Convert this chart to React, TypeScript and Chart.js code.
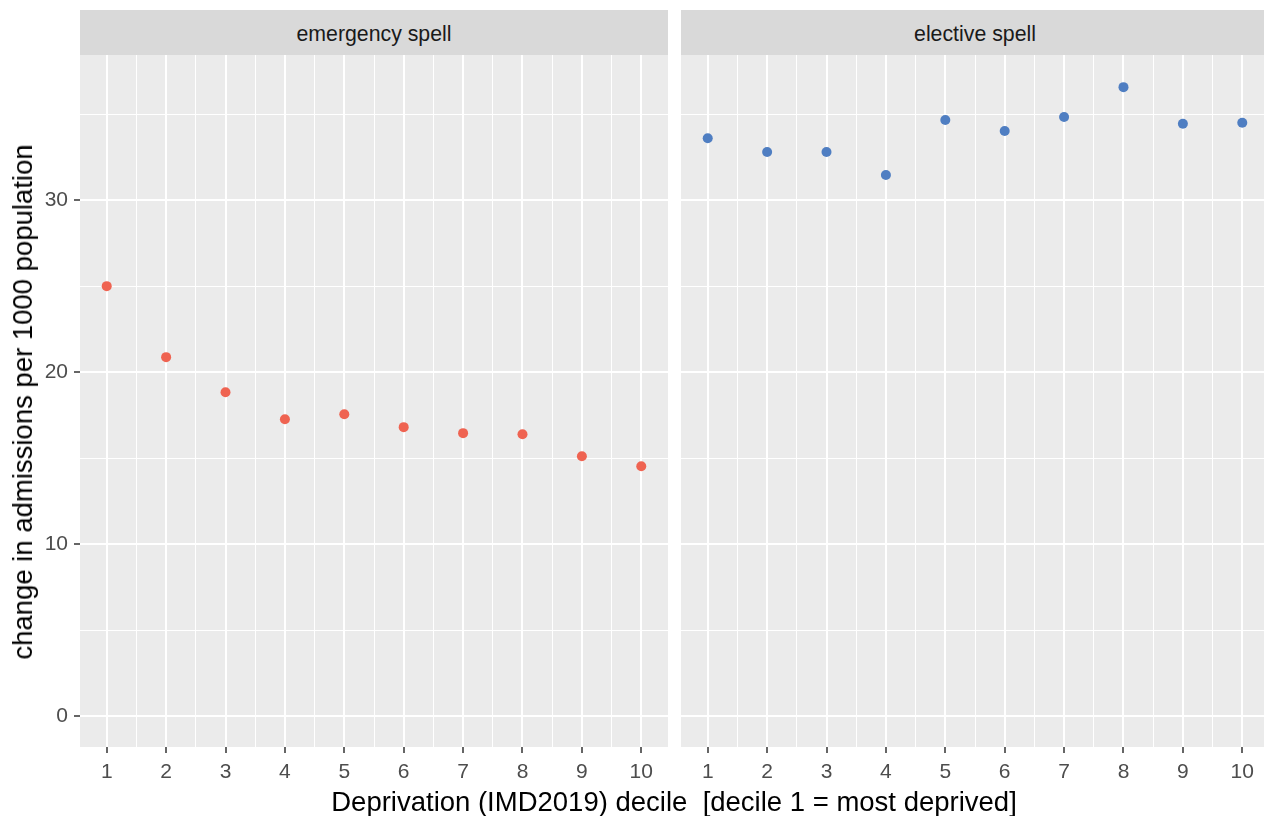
import { useEffect, useRef } from "react";
import { Chart, registerables } from "chart.js";

Chart.register(...registerables);

const deciles = [1, 2, 3, 4, 5, 6, 7, 8, 9, 10];
const emergency = [25.0, 20.87, 18.83, 17.26, 17.55, 16.8, 16.45, 16.39, 15.11, 14.53];
const elective = [33.6, 32.8, 32.8, 31.46, 34.66, 34.02, 34.83, 36.57, 34.44, 34.5];
const yMajor = [0, 10, 20, 30];
const yMinor = [5, 15, 25, 35];
const panelTitles = ["emergency spell", "elective spell"];

const FONT = '"Liberation Sans", Arial, sans-serif';
const xMinor = deciles.slice(1).map((d) => d - 0.5);

const panelBg = {
  id: "panelBg",
  beforeDraw(chart: Chart) {
    const { ctx, chartArea: a } = chart;
    ctx.save();
    ctx.fillStyle = "#EBEBEB";
    ctx.fillRect(a.left, a.top, a.right - a.left, a.bottom - a.top);
    ctx.restore();
  },
};

function Panel({
  values,
  color,
  showY,
  left,
  width,
}: {
  values: number[];
  color: string;
  showY: boolean;
  left: number;
  width: number;
}) {
  const canvasRef = useRef<HTMLCanvasElement>(null);
  const chartRef = useRef<Chart | null>(null);

  useEffect(() => {
    const el = canvasRef.current;
    if (!el) return;
    chartRef.current?.destroy();

    chartRef.current = new Chart(el, {
      type: "scatter",
      data: {
        datasets: [
          {
            data: deciles.map((d, i) => ({ x: d, y: values[i] })),
            backgroundColor: color,
            borderWidth: 0,
            pointRadius: 5,
            pointHoverRadius: 5,
          },
        ],
      },
      plugins: [panelBg],
      options: {
        animation: false,
        responsive: true,
        maintainAspectRatio: false,
        layout: { padding: 0, autoPadding: false },
        plugins: { legend: { display: false }, tooltip: { enabled: false } },
        scales: {
          x: {
            type: "linear",
            min: 0.55,
            max: 10.45,
            afterBuildTicks: (s) => {
              s.ticks = [...deciles, ...xMinor].sort((a, b) => a - b).map((v) => ({ value: v }));
            },
            afterFit: (s) => {
              s.height = 44;
              s.paddingLeft = 0;
              s.paddingRight = 0;
            },
            ticks: {
              autoSkip: false,
              maxRotation: 0,
              color: "#4D4D4D",
              font: { size: 21, family: FONT },
              padding: 7,
              callback: (v) => (Number.isInteger(v) ? String(v) : ""),
            },
            grid: {
              color: "#FFFFFF",
              lineWidth: (c) => (Number.isInteger(c.tick?.value) ? 2 : 1),
              tickColor: (c) => (Number.isInteger(c.tick?.value) ? "#333333" : "rgba(0,0,0,0)"),
              tickLength: 6,
              tickWidth: 1.5,
            },
            border: { display: false },
          },
          y: {
            type: "linear",
            min: -1.8,
            max: 38.44,
            afterBuildTicks: (s) => {
              s.ticks = [...yMajor, ...yMinor].sort((a, b) => a - b).map((v) => ({ value: v }));
            },
            afterFit: (s) => {
              s.width = showY ? 80 : 0;
              s.paddingTop = 0;
              s.paddingBottom = 0;
            },
            ticks: {
              display: showY,
              color: "#4D4D4D",
              font: { size: 21, family: FONT },
              padding: 6,
              callback: (v) => (yMajor.includes(Number(v)) ? String(v) : ""),
            },
            grid: {
              color: "#FFFFFF",
              lineWidth: (c) => (yMajor.includes(c.tick?.value) ? 2 : 1),
              tickColor: (c) => (yMajor.includes(c.tick?.value) ? "#333333" : "rgba(0,0,0,0)"),
              tickLength: 6,
              tickWidth: 1.5,
              drawTicks: showY,
            },
            border: { display: false },
          },
        },
      },
    });

    return () => {
      chartRef.current?.destroy();
      chartRef.current = null;
    };
  }, [values, color, showY]);

  return (
    <div style={{ position: "absolute", left, top: 55, width, height: 736 }}>
      <canvas ref={canvasRef} />
    </div>
  );
}

function Strip({ left, width, text }: { left: number; width: number; text: string }) {
  return (
    <div
      style={{
        position: "absolute",
        left,
        top: 10,
        width,
        height: 45,
        background: "#D9D9D9",
        color: "#1A1A1A",
        fontSize: 21.3,
        lineHeight: "48px",
        textAlign: "center",
      }}
    >
      {text}
    </div>
  );
}

export default function App() {
  return (
    <div
      style={{
        position: "absolute",
        left: 0,
        top: 0,
        width: 1264,
        height: 816,
        overflow: "hidden",
        background: "#FFFFFF",
        fontFamily: FONT,
      }}
    >
      <Strip left={80} width={588} text={panelTitles[0]} />
      <Strip left={681} width={588} text={panelTitles[1]} />
      <Panel values={emergency} color="#EF6351" showY={true} left={0} width={668} />
      <Panel values={elective} color="#4F7EC2" showY={false} left={681} width={588} />
      <div
        style={{
          position: "absolute",
          left: 23,
          top: 402,
          transform: "translate(-50%, -50%) rotate(-90deg)",
          whiteSpace: "nowrap",
          fontSize: 27.5,
          color: "#000000",
        }}
      >
        change in admissions per 1000 population
      </div>
      <div
        style={{
          position: "absolute",
          left: 674,
          top: 802,
          transform: "translate(-50%, -50%)",
          whiteSpace: "pre",
          fontSize: 27.5,
          color: "#000000",
        }}
      >
        {"Deprivation (IMD2019) decile  [decile 1 = most deprived]"}
      </div>
    </div>
  );
}
